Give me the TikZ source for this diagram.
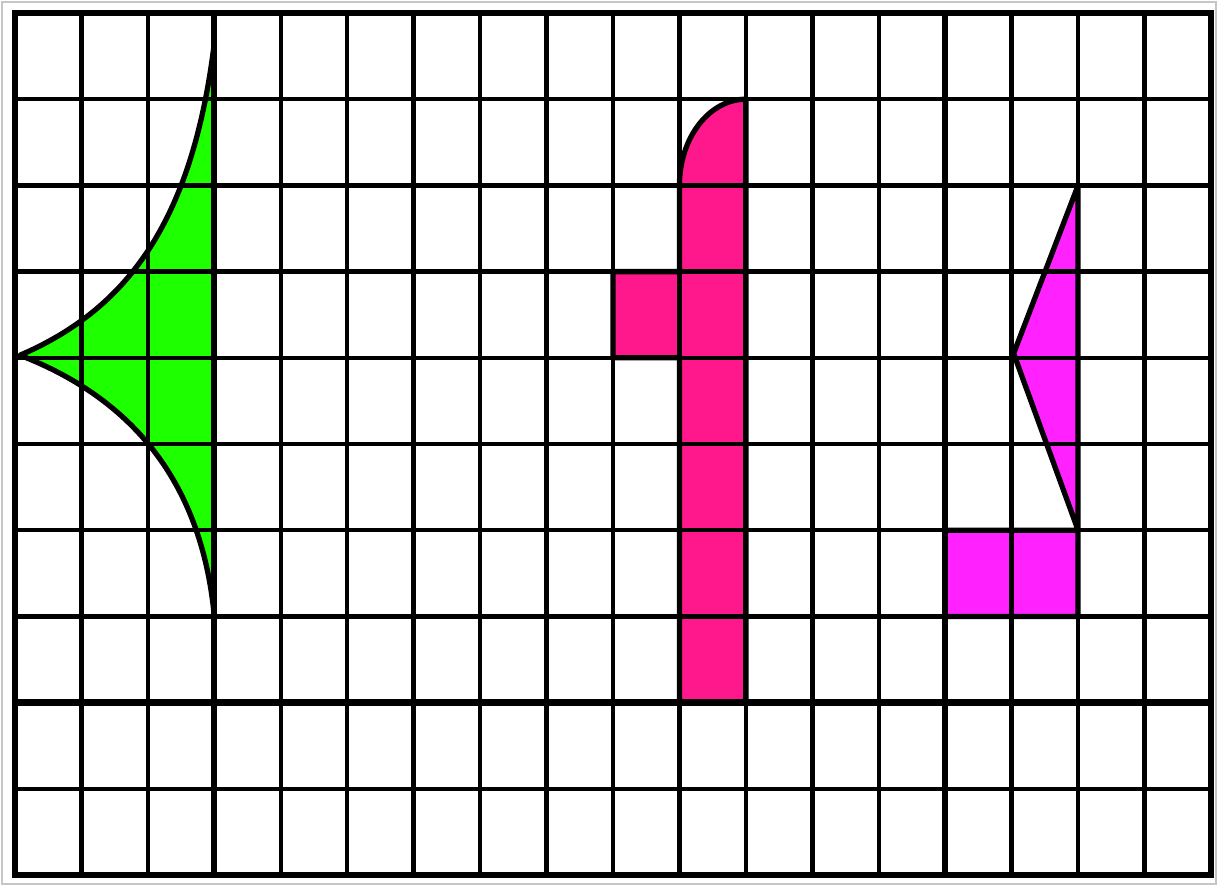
\documentclass[tikz,border=0pt]{standalone}
\definecolor{shapegreen}{RGB}{30,255,0}
\definecolor{shapepink}{RGB}{255,24,140}
\definecolor{shapemagenta}{RGB}{255,34,255}
\tikzset{
  gridline/.style={line width=1.25pt, black},
  gridthick/.style={line width=1.8pt, black},
  outline/.style={line width=1.5pt, black, line join=round},
}
\begin{document}
\begin{tikzpicture}[x=0.6644cm, y=-0.862cm]
\useasboundingbox (-0.2258,-0.1508) rectangle (18.106,10.128);
\fill[white] (-0.2258,-0.1508) rectangle (18.106,10.128);
\draw[gray!45, line width=0.5pt] (-0.1957,-0.1276) rectangle (18.076,10.104);
% fills
\fill[shapegreen] (3,0.348) .. controls (2.664,2.459) and (1.656,3.445) .. (0.075,3.97)
  .. controls (1.505,4.397) and (2.785,5.244) .. (3,7) -- cycle;
\fill[shapepink] (10,2) .. controls (10,1.448) and (10.448,1) .. (11,1) -- (11,8) -- (10,8)
  -- (10,4) -- (9,4) -- (9,3) -- (10,3) -- cycle;
\fill[shapemagenta] (16,2) -- (15.03,3.95) -- (16,6) -- (14,6) -- (14,7) -- (16,7) -- cycle;
% grid
\foreach \i in {0,...,18} {\draw[gridline] (\i,0) -- (\i,10);}
\foreach \j in {0,...,10} {\draw[gridline] (0,\j) -- (18,\j);}
\draw[gridthick] (3,0) -- (3,10);
\draw[gridthick] (14,0) -- (14,10);
\draw[gridthick] (0,8) -- (18,8);
\draw[gridthick] (0,0) rectangle (18,10);
% outlines
\draw[outline] (3,0.348) .. controls (2.664,2.459) and (1.656,3.445) .. (0.075,3.97)
  .. controls (1.505,4.397) and (2.785,5.244) .. (3,7);
\draw[outline] (10,2) .. controls (10,1.448) and (10.448,1) .. (11,1) -- (11,8) -- (10,8)
  -- (10,4) -- (9,4) -- (9,3) -- (10,3) -- cycle;
\draw[outline] (16,2) -- (15.03,3.95) -- (16,6) -- (14,6) -- (14,7) -- (16,7) -- cycle;
\end{tikzpicture}
\end{document}
